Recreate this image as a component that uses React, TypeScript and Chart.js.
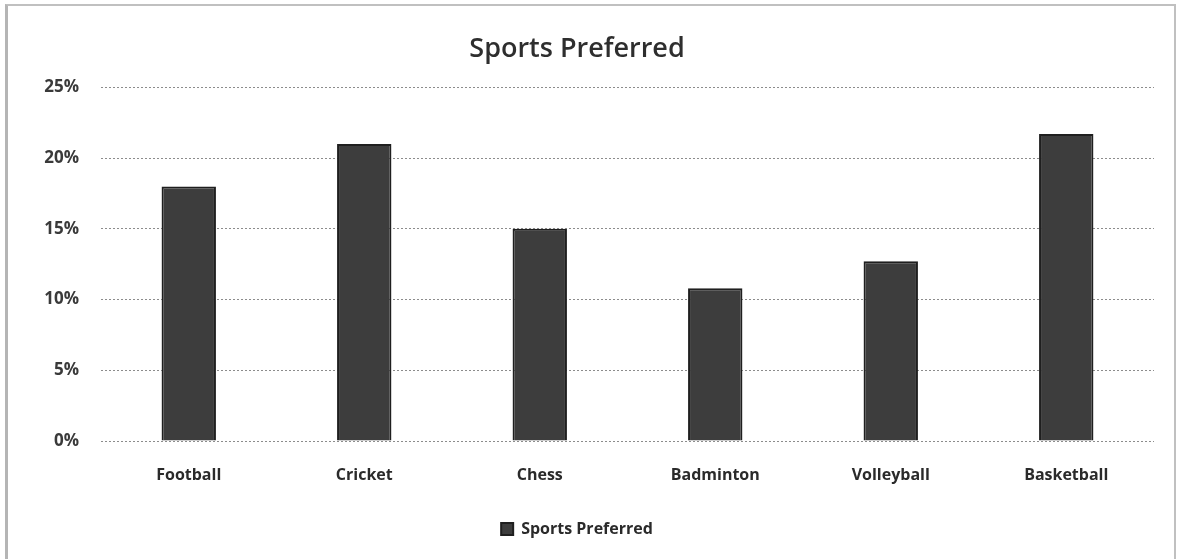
import React, { useEffect, useRef } from "react";
import { Chart, registerables } from "chart.js";

Chart.register(...registerables);

const categories = ["Football", "Cricket", "Chess", "Badminton", "Volleyball", "Basketball"];
const sharePercent = [18, 21, 15, 10.8, 12.7, 21.7];
const seriesName = "Sports Preferred";
const chartTitle = "Sports Preferred";
const yTicks = [0, 5, 10, 15, 20, 25];

export default function App() {
  const ref = useRef<HTMLCanvasElement | null>(null);

  useEffect(() => {
    if (!ref.current) return;
    const chart = new Chart(ref.current, {
      type: "bar",
      data: {
        labels: categories,
        datasets: [
          {
            label: seriesName,
            data: sharePercent,
            backgroundColor: "#3d3d3d",
            borderColor: "#1f1f1f",
            borderWidth: 2,
            barPercentage: 0.62,
            categoryPercentage: 0.5,
          },
        ],
      },
      options: {
        animation: false,
        responsive: false,
        maintainAspectRatio: false,
        layout: { padding: { left: 0, right: 26, top: 0, bottom: 12 } },
        plugins: {
          title: {
            display: true,
            text: chartTitle,
            color: "#2e2e2e",
            font: { family: "Open Sans", size: 27, weight: "600" },
            padding: { top: 33, bottom: 22 },
          },
          legend: {
            position: "bottom",
            labels: {
              color: "#2a2a2a",
              font: { family: "Open Sans", size: 16, weight: "bold" },
              boxWidth: 12,
              boxHeight: 12,
              padding: 10,
            },
          },
          tooltip: { enabled: false },
        },
        scales: {
          x: {
            grid: { display: false, drawTicks: false },
            border: { display: false },
            ticks: {
              color: "#2a2a2a",
              font: { family: "Open Sans", size: 16, weight: "bold" },
              padding: 25,
              maxRotation: 0,
            },
            afterFit: (s: any) => {
              s.height = 70;
            },
          },
          y: {
            min: 0,
            max: 25,
            afterBuildTicks: (s: any) => {
              s.ticks = yTicks.map((v) => ({ value: v }));
            },
            grid: { color: "#8c8c8c", lineWidth: 1, drawTicks: false },
            border: { display: false, dash: [2, 2] },
            ticks: {
              color: "#3a3a3a",
              font: { family: "Open Sans", size: 17, weight: "bold" },
              padding: 22,
              callback: (v: any) => v + "%",
            },
            afterFit: (s: any) => {
              s.width = 101;
            },
          },
        },
      },
    });
    return () => chart.destroy();
  }, []);

  return (
    <div style={{ position: "fixed", left: 0, top: 0, width: 1180, height: 559, background: "#fff" }}>
      <div
        style={{
          position: "absolute",
          left: 5,
          top: 4,
          width: 1171,
          height: 560,
          borderLeft: "3px solid #b5b5b5",
          borderTop: "2px solid #c0c0c0",
          borderRight: "2px solid #c0c0c0",
          boxSizing: "border-box",
        }}
      />
      <canvas ref={ref} width={1180} height={559} style={{ position: "absolute", left: 0, top: 0 }} />
    </div>
  );
}
